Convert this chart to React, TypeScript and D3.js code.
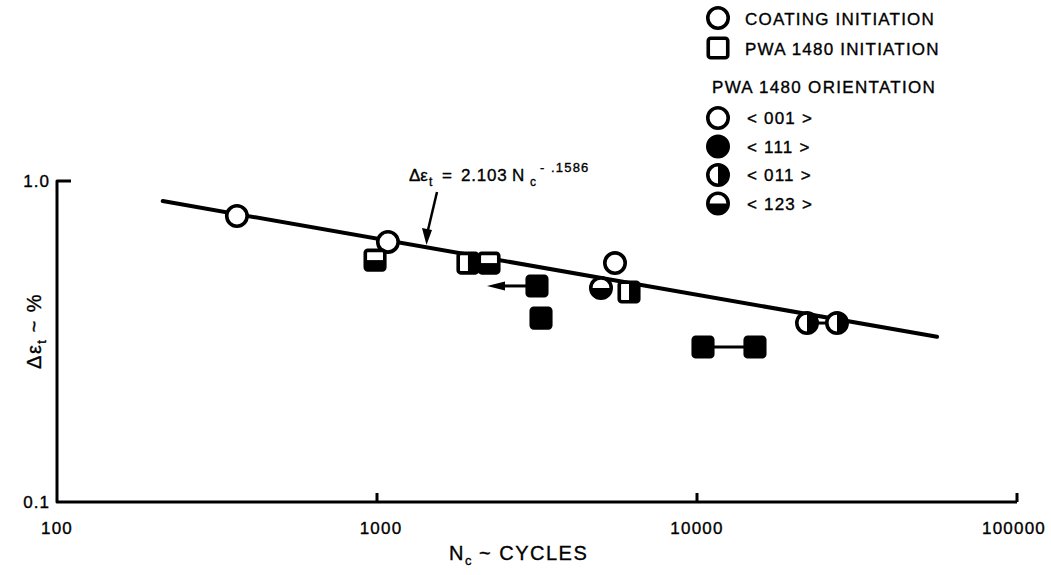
import React from "react";
import * as d3 from "d3";

// ---- data ----
const cycles = [365, 1082, 5543, 5012, 22070, 27384, 986, 1924, 2239, 3162, 3255, 6131, 10441, 15177];
const strain = [0.778, 0.646, 0.555, 0.464, 0.361, 0.361, 0.567, 0.555, 0.555, 0.471, 0.374, 0.451, 0.304, 0.304];
// C = coating initiation (circle), P = PWA 1480 initiation (square)
const site = ["C", "C", "C", "C", "C", "C", "P", "P", "P", "P", "P", "P", "P", "P"];
const orient = ["001", "001", "001", "123", "011", "011", "123", "011", "123", "111", "111", "011", "111", "111"];
// pairs of points joined by a bar
const joinedPairs = [[12, 13], [4, 5]];
// point with a "less than" arrow, and arrow tip cycles
const arrowPoint = 9;
const arrowTipCycles = 2207;
// fitted line end points
const fitCycles = [214, 56234];
const fitStrain = [0.866, 0.327];

const xTicks = [100, 1000, 10000, 100000];
const xTickLabels = ["100", "1000", "10000", "100000"];
const yTickVals = [1.0, 0.1];
const yTickLabels = ["1.0", "0.1"];

const legendSite = ["COATING INITIATION", "PWA 1480 INITIATION"];
const legendOrient = ["001", "111", "011", "123"];
const legendOrientLabels = ["< 001 >", "< 111 >", "< 011 >", "< 123 >"];

const FONT = "'Liberation Sans', Arial, Helvetica, sans-serif";

function Marker({ shape, fill, x, y }: { shape: string; fill: string; x: number; y: number }) {
  const r = 10.2;
  const sw = 3.6;
  if (shape === "C") {
    let half: React.ReactNode = null;
    if (fill === "111") half = <circle cx={x} cy={y} r={r} fill="black" />;
    if (fill === "011") half = <path d={`M${x},${y - r} A${r},${r} 0 0 1 ${x},${y + r} Z`} fill="black" />;
    if (fill === "123") half = <path d={`M${x - r},${y} A${r},${r} 0 0 0 ${x + r},${y} Z`} fill="black" />;
    return (
      <g>
        <circle cx={x} cy={y} r={r} fill="white" />
        {half}
        <circle cx={x} cy={y} r={r} fill="none" stroke="black" strokeWidth={sw} />
      </g>
    );
  }
  const s = 19.5;
  let half: React.ReactNode = null;
  if (fill === "111") half = <rect x={x - s / 2} y={y - s / 2} width={s} height={s} fill="black" />;
  if (fill === "011") half = <rect x={x} y={y - s / 2} width={s / 2} height={s} fill="black" />;
  if (fill === "123") half = <rect x={x - s / 2} y={y} width={s} height={s / 2} fill="black" />;
  return (
    <g>
      <rect x={x - s / 2} y={y - s / 2} width={s} height={s} fill="white" />
      {half}
      <rect x={x - s / 2} y={y - s / 2} width={s} height={s} rx={2.5} fill="none" stroke="black" strokeWidth={sw} />
    </g>
  );
}

export default function App() {
  const W = 1051;
  const H = 575;
  const x = d3.scaleLog().domain([100, 100000]).range([57, 1017]);
  const y = d3.scaleLog().domain([0.1, 1]).range([502, 181]);

  const fitLine = d3
    .line<number>()
    .x((_, i) => x(fitCycles[i]))
    .y((_, i) => y(fitStrain[i]))(fitCycles);

  const ap = { x: x(cycles[arrowPoint]), y: y(strain[arrowPoint]) };
  const tipX = x(arrowTipCycles);

  const txt = { stroke: "black", strokeWidth: 0.35 };

  return (
    <svg
      width={W}
      height={H}
      style={{ position: "absolute", left: 0, top: 0, background: "white" }}
      fontFamily={FONT}
    >
      {/* axes */}
      <path
        d={`M${x(100) + 14},${y(1)} L${x(100)},${y(1)} L${x(100)},${y(0.1)} L${x(100000)},${y(0.1)}`}
        fill="none"
        stroke="black"
        strokeWidth={3}
        strokeLinejoin="round"
      />
      {xTicks.slice(1).map((t) => (
        <line key={t} x1={x(t)} x2={x(t)} y1={y(0.1)} y2={y(0.1) - 9} stroke="black" strokeWidth={3} />
      ))}
      {xTicks.map((t, i) => (
        <text key={t} x={x(t) + (i === 1 ? 4 : 0) - (i === 3 ? 3 : 0)} y={534} textAnchor="middle" fontSize={17} letterSpacing={1.2} {...txt}>
          {xTickLabels[i]}
        </text>
      ))}
      {yTickVals.map((t, i) => (
        <text key={t} x={50} y={y(t) + 6} textAnchor="end" fontSize={17} letterSpacing={1} {...txt}>
          {yTickLabels[i]}
        </text>
      ))}

      {/* axis titles */}
      <text x={449} y={560} fontSize={20} letterSpacing={1.5} {...txt}>
        N
        <tspan fontSize={13} dy={5}>c</tspan>
        <tspan dy={-5} dx={6}>~ CYCLES</tspan>
      </text>
      <text transform="translate(41,331) rotate(-90)" textAnchor="middle" fontSize={20} letterSpacing={1.5} {...txt}>
        Δε
        <tspan fontSize={13} dy={5}>t</tspan>
        <tspan dy={-5} dx={6}>~ %</tspan>
      </text>

      {/* fitted line */}
      <path d={fitLine ?? ""} fill="none" stroke="black" strokeWidth={4} strokeLinecap="round" />

      {/* equation annotation */}
      <g fontSize={17} {...txt}>
        <text x={409} y={181}>Δε</text>
        <text x={429} y={186} fontSize={12}>t</text>
        <text x={442} y={181}>=</text>
        <text x={461} y={181} letterSpacing={0.8}>2.103</text>
        <text x={512} y={181}>N</text>
        <text x={530} y={186} fontSize={12}>c</text>
        <text x={540} y={172} fontSize={13}>-</text>
        <text x={551} y={172} fontSize={13} letterSpacing={1.2}>.1586</text>
      </g>
      <line x1={437} y1={192} x2={428} y2={230} stroke="black" strokeWidth={2.5} />
      <path d="M422,228 L426.5,245 L432,230 Z" fill="black" />

      {/* connecting bars */}
      {joinedPairs.map(([a, b], i) => (
        <line
          key={i}
          x1={x(cycles[a])}
          x2={x(cycles[b])}
          y1={y(strain[a])}
          y2={y(strain[b])}
          stroke="black"
          strokeWidth={3}
        />
      ))}

      {/* less-than arrow */}
      <line x1={ap.x - 10} x2={tipX + 12} y1={ap.y} y2={ap.y} stroke="black" strokeWidth={3} />
      <path d={`M${tipX},${ap.y} L${tipX + 18},${ap.y - 4.5} L${tipX + 18},${ap.y + 4.5} Z`} fill="black" />

      {/* points */}
      {cycles.map((c, i) => (
        <Marker key={i} shape={site[i]} fill={orient[i]} x={x(c)} y={y(strain[i])} />
      ))}

      {/* legend */}
      <Marker shape="C" fill="001" x={718} y={18} />
      <Marker shape="P" fill="001" x={718} y={48} />
      {legendSite.map((l, i) => (
        <text key={l} x={745} y={25 + i * 30} fontSize={17} letterSpacing={1.2} {...txt}>
          {l}
        </text>
      ))}
      <text x={712} y={93} fontSize={17} letterSpacing={1.3} {...txt}>
        PWA 1480 ORIENTATION
      </text>
      {legendOrient.map((o, i) => (
        <g key={o}>
          <Marker shape="C" fill={o} x={718} y={118 + i * 28.5} />
          <text x={747} y={124 + i * 28.5} fontSize={17} letterSpacing={1.2} xmlSpace="preserve" {...txt}>
            {legendOrientLabels[i]}
          </text>
        </g>
      ))}
    </svg>
  );
}
